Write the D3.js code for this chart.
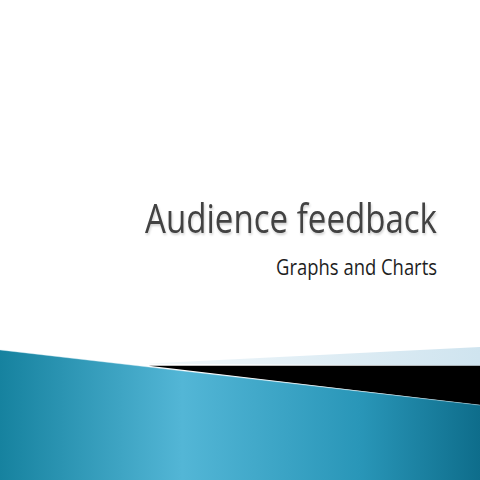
<!DOCTYPE html>
<html>
<head>
<meta charset="utf-8">
<script src="https://cdn.jsdelivr.net/npm/d3@7"></script>
<style>
  html, body { margin: 0; padding: 0; background: #fff; }
</style>
</head>
<body>
<svg id="slide" width="480" height="480"></svg>
<script>
// slide texts
const titleText = "Audience feedback";
const subtitleText = "Graphs and Charts";

// decorative bands, vertices in slide units (0..100 across, 0..100 down)
const lightBand = [[30, 75.8], [100, 72.3], [100, 76.2]];
const blackBand = [[31, 76.2], [100, 76.2], [100, 84.4]];
const tealBand = [[0, 72.9], [100, 84.4], [100, 100], [0, 100]];

const width = 480, height = 480;
const x = d3.scaleLinear().domain([0, 100]).range([0, width]);
const y = d3.scaleLinear().domain([0, 100]).range([0, height]);

const svg = d3.select("#slide");

// gradients
const defs = svg.append("defs");
const tealGrad = defs.append("linearGradient")
    .attr("id", "tealGrad")
    .attr("x1", "0%").attr("x2", "100%")
    .attr("y1", "0%").attr("y2", "0%");
tealGrad.append("stop").attr("offset", "0%").attr("stop-color", "#16829f");
tealGrad.append("stop").attr("offset", "38%").attr("stop-color", "#53b6d6");
tealGrad.append("stop").attr("offset", "75%").attr("stop-color", "#2996b8");
tealGrad.append("stop").attr("offset", "100%").attr("stop-color", "#0e6d8b");

const lightGrad = defs.append("linearGradient")
    .attr("id", "lightGrad")
    .attr("x1", "0%").attr("x2", "100%");
lightGrad.append("stop").attr("offset", "0%").attr("stop-color", "#f2f8fb");
lightGrad.append("stop").attr("offset", "100%").attr("stop-color", "#cfe4ef");

// soft shadow under the title
const shadow = defs.append("filter").attr("id", "shadow")
    .attr("x", "-10%").attr("y", "-40%").attr("width", "120%").attr("height", "180%");
shadow.append("feDropShadow")
    .attr("dx", 1).attr("dy", 2).attr("stdDeviation", 1.2)
    .attr("flood-color", "#000").attr("flood-opacity", 0.18);

const line = d3.line().x(d => x(d[0])).y(d => y(d[1])).curve(d3.curveLinearClosed);

svg.append("path").datum(lightBand)
    .attr("d", line)
    .attr("fill", "url(#lightGrad)");

svg.append("path").datum(blackBand)
    .attr("d", line)
    .attr("fill", "#000");

svg.append("path").datum(tealBand)
    .attr("d", line)
    .attr("fill", "url(#tealGrad)");

// thin highlight on the teal edge
svg.append("path").datum(tealBand.slice(0, 2))
    .attr("d", d3.line().x(d => x(d[0])).y(d => y(d[1])))
    .attr("fill", "none")
    .attr("stroke", "#d6eef6")
    .attr("stroke-opacity", 0.5)
    .attr("stroke-width", 0.8);

// right-aligned text squeezed horizontally to the reference width
const font = "'Open Sans', 'Noto Sans', sans-serif";
function squeezedText(txt, right, base, size, targetW, color) {
    const g = svg.append("g");
    const t = g.append("text")
        .attr("text-anchor", "end")
        .style("font-family", font)
        .style("font-size", size + "px")
        .style("fill", color)
        .text(txt);
    const k = Math.min(1, targetW / t.node().getComputedTextLength());
    g.attr("transform", `translate(${right},${base}) scale(${k},1)`);
    return t;
}

squeezedText(titleText, 437, 233, 40, 292, "#434343").attr("filter", "url(#shadow)");
squeezedText(subtitleText, 437, 275, 22, 161, "#1e1e1e");
</script>
</body>
</html>
